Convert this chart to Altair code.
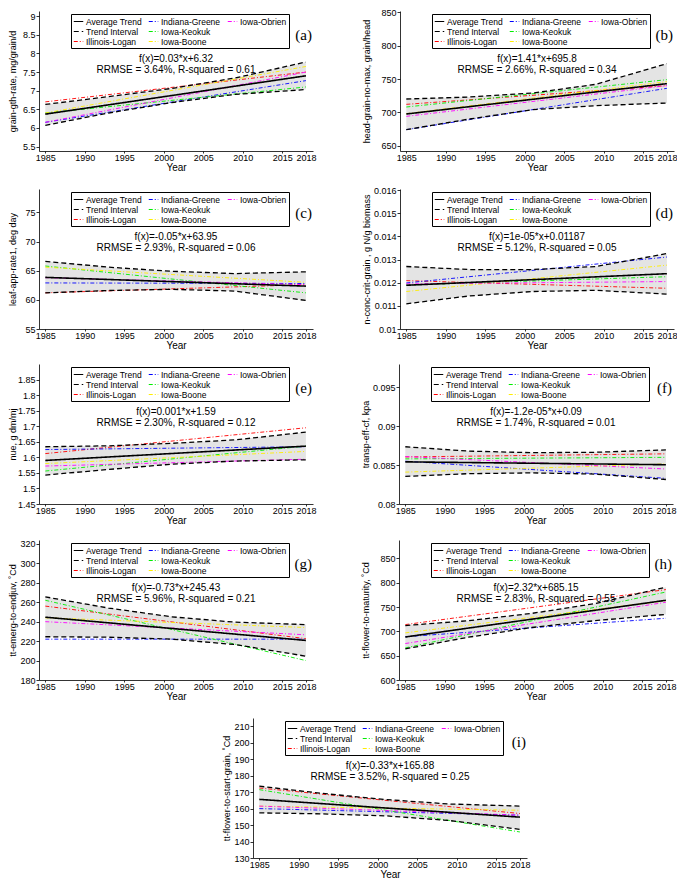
import altair as alt
import pandas as pd

SANS = "Liberation Sans"
SERIF = "Liberation Serif"

X_TICKS = [1985, 1990, 1995, 2000, 2005, 2010, 2015, 2018]
X_DOMAIN = [1984.2, 2018.9]
END_YEARS = [1985, 2018]
BAND_YEARS = [1985, 1993, 2001, 2009, 2018]
STATES = ["Illinois-Logan", "Indiana-Greene", "Iowa-Keokuk", "Iowa-Boone", "Iowa-Obrien"]

# legend entries (column by column); the last one is an empty filler slot
LEGEND_ORDER = ["Average Trend", "Trend Interval", "Illinois-Logan",
                "Indiana-Greene", "Iowa-Keokuk", "Iowa-Boone", "Iowa-Obrien", " "]
LEGEND_COLORS = ["#000000", "#000000", "#ff0000",
                 "#0000ff", "#00ee00", "#ffee00", "#ff00ff", "#ffffff"]
LEGEND_DASHES = [[1, 0], [5, 3], [4, 2, 1, 2],
                 [4, 2, 1, 2], [4, 2, 1, 2], [4, 2, 1, 2], [4, 2, 1, 2], [1, 0]]
AVG_DASH = [1, 0]
INTERVAL_DASH = [5, 3]
STATE_DASH = [4, 2, 1, 2]

# ---- (a) grain-gth-rate
A_AVG = [6.37, 7.40]
A_UP = [6.63, 6.84, 7.06, 7.34, 7.77]
A_LO = [6.07, 6.40, 6.68, 6.90, 7.03]
A_START = [6.70, 6.15, 6.40, 6.40, 6.15]
A_END = [7.50, 7.27, 7.10, 7.65, 7.50]
# ---- (b) head-grain-no-max
B_AVG = [697.5, 743.0]
B_UP = [720, 723, 729, 742, 773]
B_LO = [674, 690, 704, 710, 714]
B_START = [712, 674, 708, 698, 694]
B_END = [740, 736, 749, 746, 740]
# ---- (c) leaf-app-rate1
C_AVG = [63.85, 62.35]
C_UP = [66.6, 65.6, 64.9, 64.5, 64.8]
C_LO = [61.2, 61.6, 61.8, 61.5, 59.9]
C_START = [61.2, 62.9, 65.8, 65.6, 63.8]
C_END = [62.6, 62.8, 61.2, 63.0, 62.6]
# ---- (d) n-conc-crit-grain
D_AVG = [0.01189, 0.01239]
D_UP = [0.01270, 0.01257, 0.01257, 0.01270, 0.01326]
D_LO = [0.01109, 0.01143, 0.01162, 0.01167, 0.01151]
D_START = [0.01209, 0.01199, 0.01190, 0.01162, 0.01195]
D_END = [0.01176, 0.01311, 0.01226, 0.01276, 0.01205]
# ---- (e) nue
E_AVG = [1.590, 1.636]
E_UP = [1.634, 1.637, 1.645, 1.656, 1.681]
E_LO = [1.543, 1.561, 1.578, 1.588, 1.592]
E_START = [1.612, 1.625, 1.556, 1.580, 1.572]
E_END = [1.695, 1.634, 1.636, 1.619, 1.594]
# ---- (f) transp-eff-cf
F_AVG = [0.08542, 0.08505]
F_UP = [0.08736, 0.08680, 0.08660, 0.08665, 0.08695]
F_LO = [0.08355, 0.08390, 0.08400, 0.08385, 0.08315]
F_START = [0.08605, 0.08550, 0.08580, 0.08410, 0.08610]
F_END = [0.08645, 0.08330, 0.08600, 0.08515, 0.08450]
# ---- (g) tt-emerg-to-endjuv
G_AVG = [244.6, 220.7]
G_UP = [265.5, 254.0, 245.0, 239.5, 237.0]
G_LO = [224.5, 224.0, 222.0, 216.5, 204.5]
G_START = [256, 222, 262, 244, 240]
G_END = [222.5, 222, 200, 234, 226.5]
# ---- (h) tt-flower-to-maturity
H_AVG = [688.5, 764.0]
H_UP = [712, 722, 737, 757, 791]
H_LO = [664, 688, 708, 722, 735]
H_START = [714, 689, 666, 697, 675]
H_END = [786, 727, 781, 763, 760]
# ---- (i) tt-flower-to-start-grain
I_AVG = [165.6, 154.8]
I_UP = [173.6, 169.2, 165.5, 162.8, 161.5]
I_LO = [157.4, 156.8, 155.6, 152.8, 147.4]
I_START = [172.5, 160.0, 171.5, 161.5, 161.5]
I_END = [157.0, 156.0, 145.8, 159.0, 156.0]

PANELS = [
    dict(tag="(a)", ytitle="grain-gth-rate, mg/grain/d", domain=[5.38, 9.14], fmt="~g",
         ticks=[5.5, 6, 6.5, 7, 7.5, 8, 8.5, 9], avg=A_AVG, up=A_UP, lo=A_LO,
         start=A_START, end=A_END, eq="f(x)=0.03*x+6.32",
         stats="RRMSE = 3.64%,  R-squared = 0.61", side="L"),
    dict(tag="(b)", ytitle="head-grain-no-max, grain/head", domain=[642, 852], fmt="d",
         ticks=[650, 700, 750, 800, 850], avg=B_AVG, up=B_UP, lo=B_LO,
         start=B_START, end=B_END, eq="f(x)=1.41*x+695.8",
         stats="RRMSE = 2.66%,  R-squared = 0.34", side="R"),
    dict(tag="(c)", ytitle="leaf-app-rate1, deg day", domain=[55, 79], fmt="d",
         ticks=[55, 60, 65, 70, 75], avg=C_AVG, up=C_UP, lo=C_LO,
         start=C_START, end=C_END, eq="f(x)=-0.05*x+63.95",
         stats="RRMSE = 2.93%,  R-squared = 0.06", side="L"),
    dict(tag="(d)", ytitle="n-conc-crit-grain , g N/g biomass", domain=[0.01, 0.01605], fmt="~g",
         ticks=[0.01, 0.011, 0.012, 0.013, 0.014, 0.015, 0.016], avg=D_AVG, up=D_UP, lo=D_LO,
         start=D_START, end=D_END, eq="f(x)=1e-05*x+0.01187",
         stats="RRMSE = 5.12%,  R-squared = 0.05", side="R"),
    dict(tag="(e)", ytitle="nue, g dm/mj", domain=[1.45, 1.9], fmt="~g",
         ticks=[1.45, 1.5, 1.55, 1.6, 1.65, 1.7, 1.75, 1.8, 1.85], avg=E_AVG, up=E_UP, lo=E_LO,
         start=E_START, end=E_END, eq="f(x)=0.001*x+1.59",
         stats="RRMSE = 2.30%,  R-squared = 0.12", side="L"),
    dict(tag="(f)", ytitle="transp-eff-cf, kpa", domain=[0.08, 0.098], fmt="~g",
         ticks=[0.08, 0.085, 0.09, 0.095], avg=F_AVG, up=F_UP, lo=F_LO,
         start=F_START, end=F_END, eq="f(x)=-1.2e-05*x+0.09",
         stats="RRMSE = 1.74%,  R-squared = 0.01", side="R"),
    dict(tag="(g)", ytitle="tt-emerg-to-endjuv, \u02daCd", domain=[180, 324], fmt="d",
         ticks=[180, 200, 220, 240, 260, 280, 300, 320], avg=G_AVG, up=G_UP, lo=G_LO,
         start=G_START, end=G_END, eq="f(x)=-0.73*x+245.43",
         stats="RRMSE = 5.96%,  R-squared = 0.21", side="L"),
    dict(tag="(h)", ytitle="tt-flower-to-maturity, \u02daCd", domain=[600, 888], fmt="d",
         ticks=[600, 650, 700, 750, 800, 850], avg=H_AVG, up=H_UP, lo=H_LO,
         start=H_START, end=H_END, eq="f(x)=2.32*x+685.15",
         stats="RRMSE = 2.83%,  R-squared = 0.55", side="R"),
    dict(tag="(i)", ytitle="tt-flower-to-start-grain, \u02daCd", domain=[130, 215], fmt="d",
         ticks=[130, 140, 150, 160, 170, 180, 190, 200, 210], avg=I_AVG, up=I_UP, lo=I_LO,
         start=I_START, end=I_END, eq="f(x)=-0.33*x+165.88",
         stats="RRMSE = 3.52%,  R-squared = 0.25", side="L"),
]

W, H = 274, 140
LEG_X, LEG_Y = 32, 3

# per-entry dash pattern and colour for the legend symbols
DASH_EXPR = ""
for name, d in zip(LEGEND_ORDER, LEGEND_DASHES):
    DASH_EXPR += "datum.value === '%s' ? [%s] : " % (name, ",".join(str(v) for v in d))
DASH_EXPR += "[1,0]"
COLOR_EXPR = ""
for name, c in zip(LEGEND_ORDER, LEGEND_COLORS):
    COLOR_EXPR += "datum.value === '%s' ? '%s' : " % (name, c)
COLOR_EXPR += "'#000000'"


def panel(p):
    ext = 20 if p["side"] == "L" else 27
    xs = alt.Scale(domain=X_DOMAIN, nice=False, zero=False)
    ys = alt.Scale(domain=p["domain"], nice=False, zero=False)
    cs = alt.Scale(domain=LEGEND_ORDER, range=LEGEND_COLORS)
    xax = alt.Axis(values=X_TICKS, format="d", title="Year", labelOverlap=False)
    yax = alt.Axis(values=p["ticks"], format=p["fmt"], title=p["ytitle"],
                   minExtent=ext, maxExtent=ext, labelOverlap=False)
    leg = alt.Legend(title=None, orient="none", legendX=LEG_X, legendY=LEG_Y,
                     columns=3, symbolType="stroke", symbolSize=90,
                     symbolStrokeWidth=1.2, labelFontSize=8.5, labelFont=SANS,
                     fillColor="white", strokeColor="black", padding=2,
                     rowPadding=0, columnPadding=4, labelOffset=2, labelLimit=0,
                     symbolDash={"expr": DASH_EXPR},
                     symbolStrokeColor={"expr": COLOR_EXPR})
    X = alt.X("Year:Q", scale=xs, axis=xax)

    band = pd.DataFrame({"Year": BAND_YEARS, "lo": p["lo"], "hi": p["up"]})
    area = alt.Chart(band).mark_area(color="#e4e4e4").encode(
        x=X, y=alt.Y("lo:Q", scale=ys, axis=yax), y2="hi:Q")

    rows = []
    for s, v0, v1 in zip(STATES, p["start"], p["end"]):
        rows.append({"Year": END_YEARS[0], "value": v0, "series": s})
        rows.append({"Year": END_YEARS[1], "value": v1, "series": s})
    states = alt.Chart(pd.DataFrame(rows)).mark_line(strokeWidth=0.9, strokeDash=STATE_DASH).encode(
        x=X, y=alt.Y("value:Q", scale=ys, axis=yax),
        color=alt.Color("series:N", scale=cs, legend=leg), detail="series:N")

    irows = []
    for part, vals in (("upper", p["up"]), ("lower", p["lo"])):
        for yr, v in zip(BAND_YEARS, vals):
            irows.append({"Year": yr, "value": v, "series": "Trend Interval", "part": part})
    interval = alt.Chart(pd.DataFrame(irows)).mark_line(strokeWidth=1.3, strokeDash=INTERVAL_DASH).encode(
        x=X, y=alt.Y("value:Q", scale=ys, axis=yax),
        color=alt.Color("series:N", scale=cs, legend=None), detail="part:N")

    avg_df = pd.DataFrame({"Year": END_YEARS, "value": p["avg"], "series": "Average Trend"})
    avg = alt.Chart(avg_df).mark_line(strokeWidth=1.6, strokeDash=AVG_DASH).encode(
        x=X, y=alt.Y("value:Q", scale=ys, axis=yax),
        color=alt.Color("series:N", scale=cs, legend=None))

    eq = alt.Chart(pd.DataFrame({"t": [p["eq"] + "\n" + p["stats"]]})).mark_text(
        lineBreak="\n", font=SANS, fontSize=10, lineHeight=11, align="center",
        baseline="top", color="black").encode(
        text="t:N", x=alt.value(W / 2), y=alt.value(43))
    tag = alt.Chart(pd.DataFrame({"t": [p["tag"]]})).mark_text(
        font=SERIF, fontSize=15, align="right", baseline="middle", color="black").encode(
        text="t:N", x=alt.value(W - 1), y=alt.value(24))

    return alt.layer(area, states, interval, avg, eq, tag).properties(width=W, height=H)


def indep(c):
    return c.resolve_scale(color="independent").resolve_legend(color="independent")


charts = [panel(p) for p in PANELS]
rows = [indep(alt.hconcat(charts[i], charts[i + 1], spacing=45)) for i in (0, 2, 4, 6)]
spacer = alt.Chart(pd.DataFrame({"v": [0]})).mark_point(opacity=0).encode(
    x=alt.value(0), y=alt.value(0)).properties(width=183, height=H)
rows.append(indep(alt.hconcat(spacer, charts[8], spacing=0)))

chart = indep(alt.vconcat(*rows, spacing=14)).properties(padding=0).configure_view(
    stroke=None).configure_axis(
    labelFont=SANS, titleFont=SANS, labelFontSize=9, titleFontSize=9,
    titleFontWeight="normal", domainColor="black", tickColor="black",
    labelColor="black", titleColor="black", grid=False, tickSize=3,
    labelPadding=1, titlePadding=2, domainWidth=0.8, tickWidth=0.8
).configure_axisX(titleFontSize=10, titlePadding=0, labelPadding=0, tickSize=2)

chart.save("out.html", embed_options={"renderer": "svg", "actions": False})
